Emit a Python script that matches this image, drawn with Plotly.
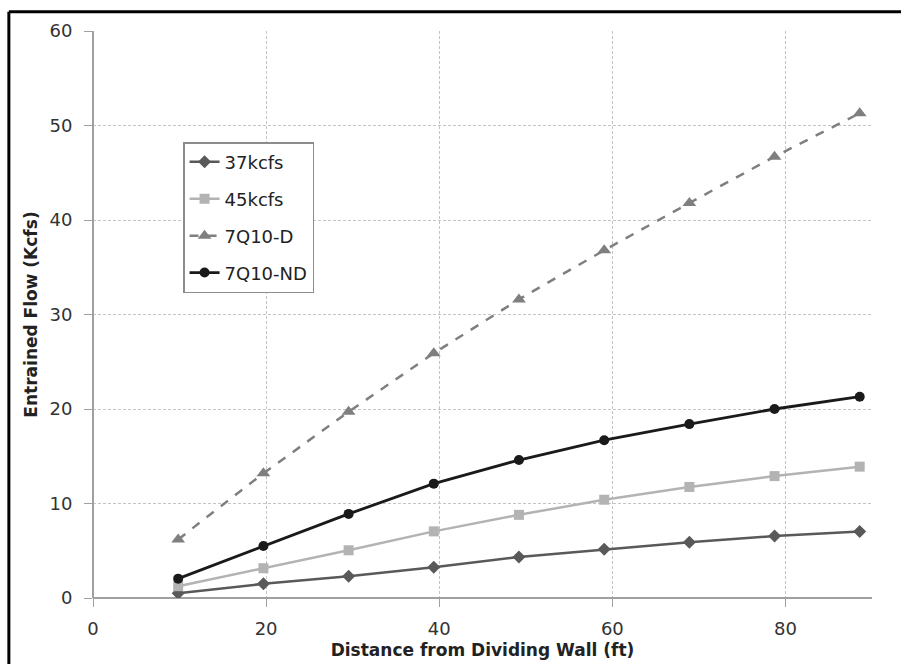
import plotly.graph_objects as go

# Distance from dividing wall (ft)
distance_ft = [9.84, 19.69, 29.53, 39.37, 49.21, 59.06, 68.90, 78.74, 88.58]

# Entrained flow (Kcfs) per scenario
flow_37kcfs = [0.5, 1.5, 2.3, 3.25, 4.35, 5.15, 5.9, 6.55, 7.05]
flow_45kcfs = [1.25, 3.15, 5.05, 7.05, 8.8, 10.4, 11.75, 12.9, 13.9]
flow_7q10_d = [6.2, 13.2, 19.7, 25.9, 31.6, 36.8, 41.8, 46.7, 51.3]
flow_7q10_nd = [2.05, 5.5, 8.9, 12.1, 14.6, 16.7, 18.4, 20.0, 21.3]

series = [
    ("37kcfs", flow_37kcfs, "#595959", "diamond", 10, "solid", 2.5),
    ("45kcfs", flow_45kcfs, "#b3b3b3", "square", 10, "solid", 2.5),
    ("7Q10-D", flow_7q10_d, "#7f7f7f", "triangle-up", 12, "dash", 2.5),
    ("7Q10-ND", flow_7q10_nd, "#1a1a1a", "circle", 10, "solid", 2.8),
]

font_family = "'DejaVu Sans', sans-serif"

fig = go.Figure()
for i, (name, ys, color, symbol, size, dash, width) in enumerate(series):
    fig.add_trace(go.Scatter(
        x=distance_ft, y=ys, name=name, mode="lines+markers",
        legendgroup=f"g{i}",
        line=dict(color=color, width=width, dash=dash),
        marker=dict(symbol=symbol, size=size, color=color),
    ))

axis_common = dict(
    showgrid=True, gridcolor="#c4c4c4", gridwidth=1, griddash="3px,2px",
    showline=False, zeroline=True, zerolinecolor="#a0a0a0", zerolinewidth=1.5,
    ticks="outside", ticklen=8, tickcolor="#a0a0a0", tickwidth=1,
    tickfont=dict(family=font_family, size=18, color="#333333"),
    automargin=False,
)

fig.update_xaxes(
    range=[0, 90], tick0=0, dtick=20, ticklabelstandoff=6, **axis_common,
    title=dict(text="<b>Distance from Dividing Wall (ft)</b>", standoff=6,
               font=dict(family=font_family, size=17, color="#222222")),
)
fig.update_yaxes(
    range=[0, 60], tick0=0, dtick=10, ticklabelstandoff=8, **axis_common,
    title=dict(text="<b>Entrained Flow (Kcfs)</b>", standoff=7,
               font=dict(family=font_family, size=17, color="#222222")),
)

# Border around the figure (left and top edges)
frame = [
    dict(type="line", xref="paper", yref="paper",
         x0=-0.108, x1=-0.108, y0=-0.2, y1=1.034,
         line=dict(color="black", width=3)),
    dict(type="line", xref="paper", yref="paper",
         x0=-0.108, x1=1.0379, y0=1.034, y1=1.034,
         line=dict(color="black", width=3)),
]

fig.update_layout(
    width=901, height=664,
    margin=dict(l=93, r=29, t=31, b=66),
    paper_bgcolor="white", plot_bgcolor="white",
    font=dict(family=font_family, size=18, color="#222222"),
    legend=dict(
        x=0.1156, y=0.804, xanchor="left", yanchor="top",
        bgcolor="white", bordercolor="#8c8c8c", borderwidth=1.5,
        font=dict(family=font_family, size=18, color="#222222"),
        tracegroupgap=10.5, itemwidth=30,
    ),
    showlegend=True,
    shapes=frame,
)

fig.write_html("out.html")
